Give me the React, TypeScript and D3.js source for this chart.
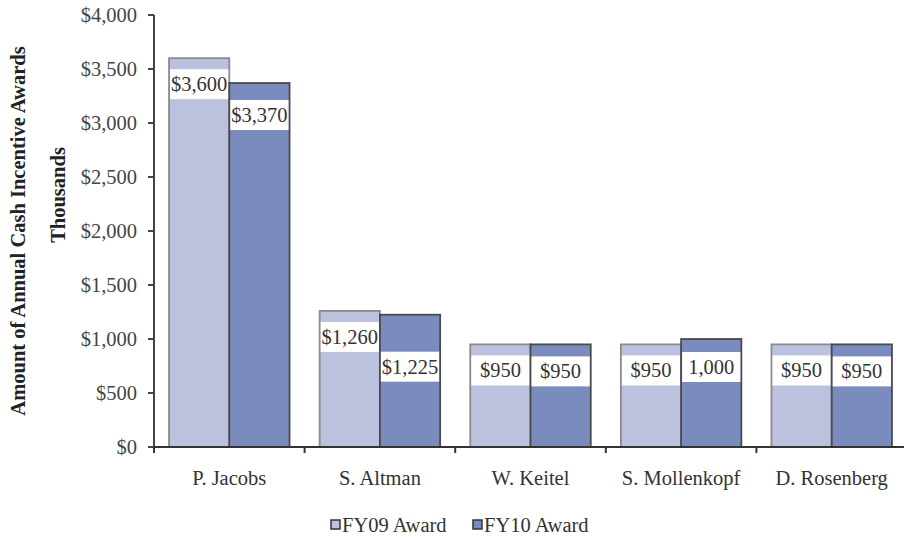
import React from "react";
import * as d3 from "d3";

const categories = ["P. Jacobs", "S. Altman", "W. Keitel", "S. Mollenkopf", "D. Rosenberg"];
const seriesNames = ["FY09 Award", "FY10 Award"];
const fy09 = [3600, 1260, 950, 950, 950];
const fy10 = [3370, 1225, 950, 1000, 950];
const fy09Labels = ["$3,600", "$1,260", "$950", "$950", "$950"];
const fy10Labels = ["$3,370", "$1,225", "$950", "1,000", "$950"];
const yTicks = [0, 500, 1000, 1500, 2000, 2500, 3000, 3500, 4000];

// distance in px from each bar's top to its value box
const fy09LabelDrop = [11, 11, 11, 11, 11];
const fy10LabelDrop = [17, 37, 12, 13, 12];

const W = 904;
const H = 541;
const left = 154;
const right = 907;
const top = 15;
const bottom = 447;
const font = "'Liberation Serif', 'Times New Roman', serif";
const fs = 20.5;
const colors = ["#bcc1dd", "#7a8bbd"];
const strokes = ["#8a8a8a", "#4a4a4a"];

export default function App() {
  const x = d3.scaleBand<string>().domain(categories).range([left, right]).paddingInner(0.2).paddingOuter(0.1);
  const xs = d3.scaleBand<string>().domain(seriesNames).range([0, x.bandwidth()]);
  const y = d3.scaleLinear().domain([0, 4000]).range([bottom, top]);
  const fmt = d3.format("$,");
  const series = [
    { name: seriesNames[0], values: fy09, labels: fy09Labels, drop: fy09LabelDrop },
    { name: seriesNames[1], values: fy10, labels: fy10Labels, drop: fy10LabelDrop },
  ];
  const step = x.step();
  const boundaries = d3.range(categories.length + 1).map((i) => left + i * step);

  return (
    <svg width={W} height={H} style={{ position: "absolute", left: 0, top: 0, background: "#fff" }} fontFamily={font}>
      {/* axis title */}
      <text transform={`translate(25,231) rotate(-90)`} textAnchor="middle" fontSize={fs} fontWeight="bold" fill="#222">
        Amount of Annual Cash Incentive Awards
      </text>
      <text transform={`translate(65,195) rotate(-90)`} textAnchor="middle" fontSize={fs} fontWeight="bold" fill="#222">
        Thousands
      </text>

      {/* bars */}
      {series.map((s, si) =>
        categories.map((c, i) => {
          const bx = (x(c) as number) + (xs(s.name) as number);
          const bw = xs.bandwidth();
          const by = y(s.values[i]);
          const boxTop = by + s.drop[i];
          return (
            <g key={`${si}-${i}`}>
              <rect x={bx} y={by} width={bw} height={bottom - by} fill={colors[si]} stroke={strokes[si]} strokeWidth={1.8} />
              <rect x={bx + 1} y={boxTop} width={bw - 2} height={30} fill="#fff" />
              <text x={bx + bw / 2} y={boxTop + 22} textAnchor="middle" fontSize={fs} fill="#333">
                {s.labels[i]}
              </text>
            </g>
          );
        })
      )}

      {/* y axis */}
      <line x1={left} x2={left} y1={top} y2={bottom} stroke="#444" strokeWidth={2} />
      {yTicks.map((t) => (
        <g key={t}>
          <line x1={left - 6} x2={left} y1={y(t)} y2={y(t)} stroke="#444" strokeWidth={2} />
          <text x={137} y={y(t) + 7} textAnchor="end" fontSize={fs} fill="#444">
            {fmt(t)}
          </text>
        </g>
      ))}

      {/* x axis */}
      <line x1={left} x2={right} y1={bottom} y2={bottom} stroke="#333" strokeWidth={2} />
      {boundaries.map((b, i) => (
        <line key={i} x1={b} x2={b} y1={bottom} y2={bottom + 6} stroke="#333" strokeWidth={2} />
      ))}
      {categories.map((c) => (
        <text key={c} x={(x(c) as number) + x.bandwidth() / 2} y={485} textAnchor="middle" fontSize={fs} fill="#333">
          {c}
        </text>
      ))}

      {/* legend */}
      {seriesNames.map((n, i) => {
        const lx = [331, 473][i];
        return (
          <g key={n}>
            <rect x={lx} y={520} width={9} height={9} fill={colors[i]} stroke="#333" strokeWidth={1.5} />
            <text x={lx + 11} y={532} fontSize={fs} fill="#333">
              {n}
            </text>
          </g>
        );
      })}
    </svg>
  );
}
